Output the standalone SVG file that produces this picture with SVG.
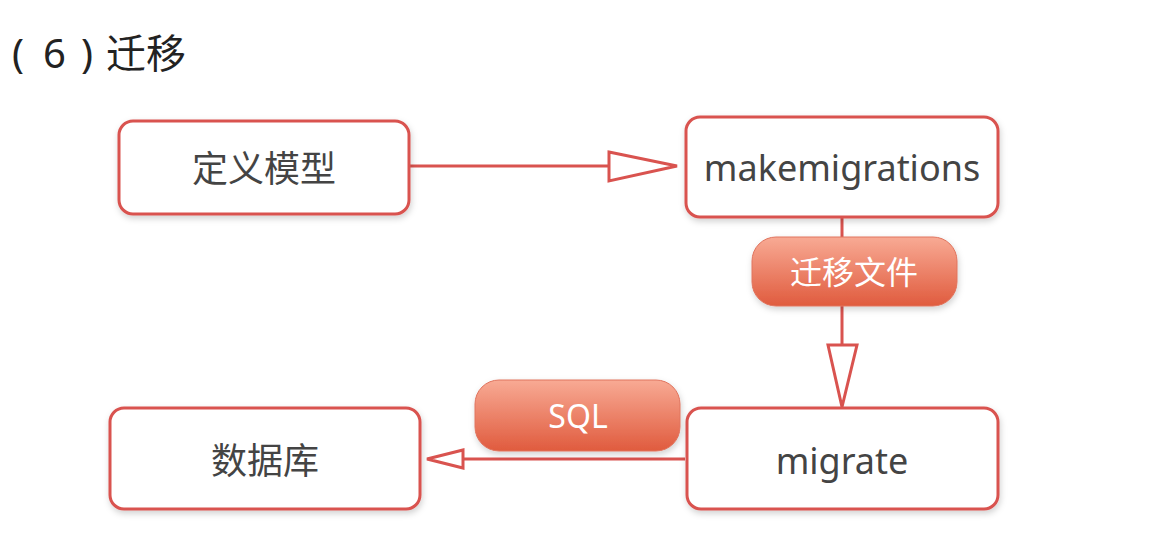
<svg xmlns="http://www.w3.org/2000/svg" width="1160" height="535" viewBox="0 0 1160 535">
<defs>
<style>
.box{fill:#fff;stroke:#d9534f;stroke-width:3;filter:url(#sh)}
.lbl{font-family:"Noto Sans","Noto Sans CJK SC",sans-serif;font-size:36px;fill:#444;text-anchor:middle;dominant-baseline:central}
.pill{fill:url(#pg);stroke:#e0745e;stroke-width:1;filter:url(#sh)}
.ptxt{font-family:"Noto Sans","Noto Sans CJK SC",sans-serif;font-size:32px;fill:#fff;text-anchor:middle;dominant-baseline:central}
.ln{stroke:#d9534f;stroke-width:3;fill:none}
.hd{fill:#fff;stroke:#d9534f;stroke-width:3;stroke-linejoin:miter}
</style>
<linearGradient id="pg" x1="0" y1="0" x2="0" y2="1">
<stop offset="0" stop-color="#f8aa94"/>
<stop offset="1" stop-color="#e05b3e"/>
</linearGradient>
<filter id="sh" x="-10%" y="-10%" width="120%" height="130%">
<feDropShadow dx="1" dy="3" stdDeviation="3" flood-color="#000" flood-opacity="0.18"/>
</filter>
</defs>
<rect width="1160" height="535" fill="#fff"/>
<text y="68" font-family="'Noto Sans','Noto Sans CJK SC',sans-serif" font-size="40" fill="#222"><tspan x="12">(</tspan><tspan x="43">6</tspan><tspan x="81">)</tspan><tspan x="106">迁移</tspan></text>
<g id="connectors">
<line class="ln" x1="409" y1="166" x2="609" y2="166"/>
<polygon class="hd" points="609,152 677,166 609,181"/>
<line class="ln" x1="842" y1="217" x2="842" y2="345"/>
<polygon class="hd" points="828,345 857,345 842,407"/>
<line class="ln" x1="685" y1="459" x2="463" y2="459"/>
<polygon class="hd" points="463,450 463,468 427,459"/>
</g>
<g id="node-define">
<rect class="box" x="119" y="121" width="290" height="93" rx="14"/>
<text class="lbl" x="264" y="168">定义模型</text>
</g>
<g id="node-makemigrations">
<rect class="box" x="686" y="117" width="312" height="100" rx="14"/>
<text class="lbl" x="842" y="167">makemigrations</text>
</g>
<g id="node-migrate">
<rect class="box" x="687" y="408" width="311" height="101" rx="14"/>
<text class="lbl" x="842" y="460">migrate</text>
</g>
<g id="node-db">
<rect class="box" x="110" y="408" width="310" height="101" rx="14"/>
<text class="lbl" x="265" y="460">数据库</text>
</g>
<g id="label-files">
<rect class="pill" x="752" y="237" width="205" height="69" rx="24"/>
<text class="ptxt" x="854" y="271">迁移文件</text>
</g>
<g id="label-sql">
<rect class="pill" x="475" y="380" width="205" height="71" rx="24"/>
<text class="ptxt" x="578" y="415">SQL</text>
</g>
</svg>
